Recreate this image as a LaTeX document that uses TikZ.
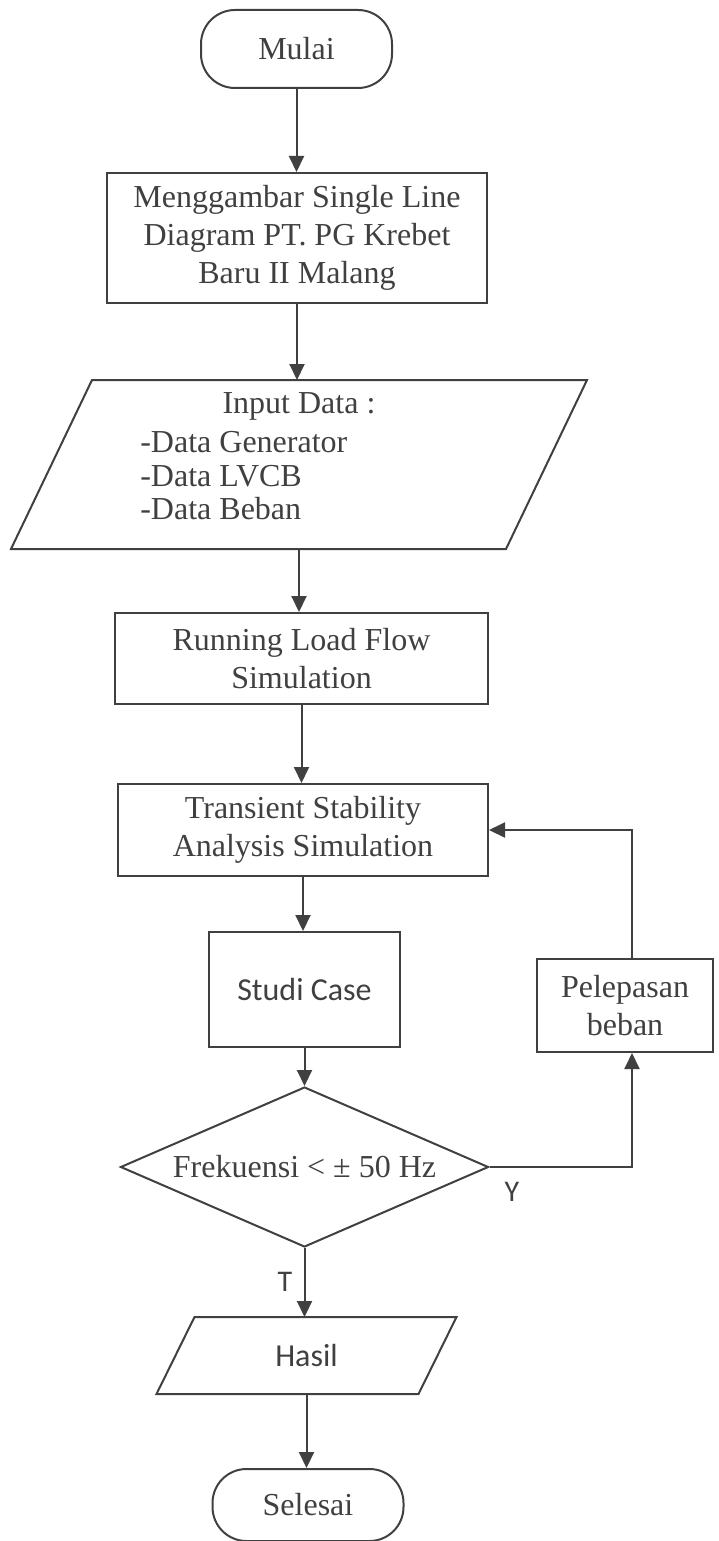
\documentclass[tikz,border=0pt]{standalone}
\usepackage{fontspec}
\setmainfont{Liberation Serif}
\newfontfamily\calfont{Carlito}
\usetikzlibrary{shapes.geometric,arrows.meta}

\begin{document}
\begin{tikzpicture}[x=1pt,y=-1pt,color=black!75,line width=2pt,
        every node/.style={font=\fontsize{32}{38}\selectfont},
        box/.style={draw,rectangle,align=center,inner sep=0pt},
        term/.style={draw,rectangle,rounded corners=34pt,inner sep=0pt},
        io/.style={rectangle,inner sep=0pt},
        sans/.style={font=\calfont\fontsize{32}{38}\selectfont},
        arr/.style={-{Triangle[length=16pt,width=15pt]}}]
        \useasboundingbox (0,0) rectangle (718,1541);

        \node[term,minimum width=191pt,minimum height=78pt] (mulai) at (296.5,49) {Mulai};
        \node[box,minimum width=380pt,minimum height=130pt] (gambar) at (297,238) {Menggambar Single Line\\Diagram PT. PG Krebet\\Baru II Malang};
        \node[io,minimum width=493pt,minimum height=167pt] (input) at (299,464.5) {};
        \node (inputjudul) at (299,406) {Input Data :};
        \node[align=left,anchor=west,font=\fontsize{32}{33.5}\selectfont] (inputisi) at (136,476) {-Data Generator\\-Data LVCB\\-Data Beban};
        \node[box,minimum width=373pt,minimum height=91pt] (running) at (301.5,658.5) {Running Load Flow\\Simulation};
        \node[box,minimum width=370pt,minimum height=92pt] (transient) at (303,830) {Transient Stability\\Analysis Simulation};
        \node[box,sans,minimum width=191pt,minimum height=115pt] (studi) at (304.5,989.5) {Studi Case};
        \node[draw,diamond,aspect=2.3,minimum width=368pt,minimum height=160pt,inner sep=1pt] (cek) at (304.5,1167) {Frekuensi < ± 50 Hz};
        \node[box,minimum width=176pt,minimum height=93pt] (lepas) at (625,1005.5) {Pelepasan\\beban};
        \node[io,sans,minimum width=260pt,minimum height=75pt] (hasil) at (306.5,1355.5) {Hasil};
        \node[term,minimum width=191pt,minimum height=72pt] (selesai) at (308,1505) {Selesai};

        \node[font=\calfont\fontsize{30}{34}\selectfont] (ya) at (512,1192) {Y};
        \node[font=\calfont\fontsize{30}{34}\selectfont] (tidak) at (285,1282) {T};

        % parallelogram input/output
        \draw ([xshift=40.5pt]input.north west) -- ([xshift=40.5pt]input.north east)
            -- ([xshift=-40.5pt]input.south east) -- ([xshift=-40.5pt]input.south west) -- cycle;
        \draw ([xshift=19pt]hasil.north west) -- ([xshift=19pt]hasil.north east)
            -- ([xshift=-19pt]hasil.south east) -- ([xshift=-19pt]hasil.south west) -- cycle;

        \draw[arr] (mulai.south) -- (mulai.south |- gambar.north);
        \draw[arr] (gambar.south) -- (gambar.south |- input.north);
        \draw[arr] (input.south) -- (input.south |- running.north);
        \draw[arr] (running.south) -- (running.south |- transient.north);
        \draw[arr] (transient.south) -- (transient.south |- studi.north);
        \draw[arr] (studi.south) -- (studi.south |- cek.north);
        \draw[arr] (cek.east) -| ([xshift=7pt]lepas.south);
        \draw[arr] ([xshift=7pt]lepas.north) |- (transient.east);
        \draw[arr] (cek.south) -- (cek.south |- hasil.north);
        \draw[arr] (hasil.south) -- (hasil.south |- selesai.north);
    \end{tikzpicture}
\end{document}
